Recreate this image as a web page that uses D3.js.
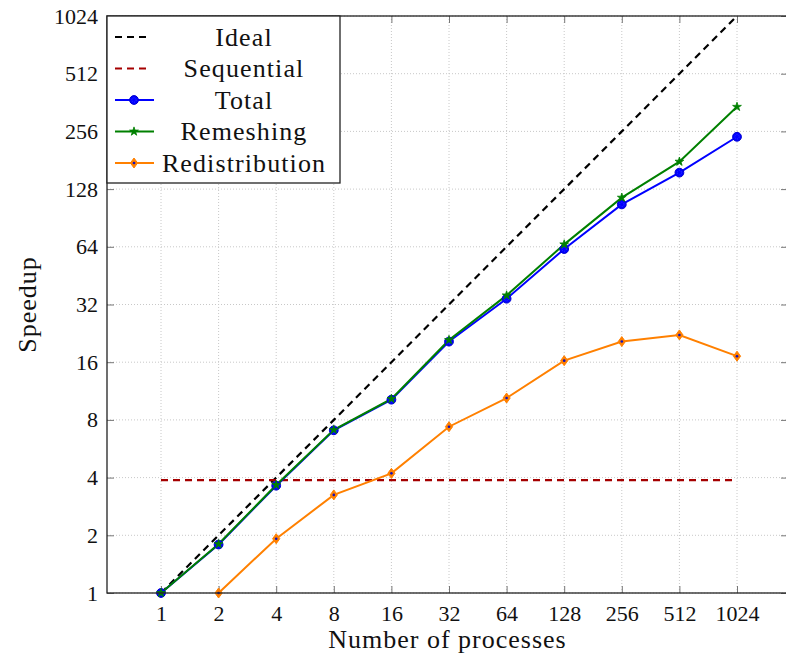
<!DOCTYPE html>
<html>
<head>
<meta charset="utf-8">
<script src="https://cdn.jsdelivr.net/npm/d3@7"></script>
<style>
  html, body { margin: 0; padding: 0; background: #fff; }
  svg { display: block; }
  text { font-family: "Liberation Serif", "Times New Roman", serif; fill: #111; }
</style>
</head>
<body>
<svg id="chart" width="786" height="659"></svg>
<script>
// ---- data ----
const processes = [1, 2, 4, 8, 16, 32, 64, 128, 256, 512, 1024];
const yTickValues = [1, 2, 4, 8, 16, 32, 64, 128, 256, 512, 1024];
const idealSpeedup = [1, 2, 4, 8, 16, 32, 64, 128, 256, 512, 1024];
const sequentialSpeedup = [3.88, 3.88, 3.88, 3.88, 3.88, 3.88, 3.88, 3.88, 3.88, 3.88, 3.88];
const totalSpeedup = [1, 1.79, 3.63, 7.06, 10.2, 20.5, 34.3, 62.3, 106.5, 156, 240];
const remeshingSpeedup = [1, 1.8, 3.66, 7.1, 10.3, 20.9, 35.7, 65.9, 115.5, 178, 344];
const redistributionSpeedup = [null, 1, 1.92, 3.25, 4.21, 7.37, 10.4, 16.3, 20.5, 22.2, 17.2];
const seriesNames = ["Ideal", "Sequential", "Total", "Remeshing", "Redistribution"];
const xLabel = "Number of processes";
const yLabel = "Speedup";

// ---- layout ----
const frame = { left: 107, right: 788, top: 16, bottom: 593 };
const firstX = 161, lastX = 737;

const svg = d3.select("#chart");
const x = d3.scaleLog().base(2).domain([1, 1024]).range([firstX, lastX]);
const y = d3.scaleLog().base(2).domain([1, 1024]).range([frame.bottom, frame.top]);

// grid
const grid = svg.append("g").attr("stroke", "#c8c8c8").attr("stroke-width", 1).attr("stroke-dasharray", "1,2");
grid.selectAll("line.gx").data(processes).join("line")
  .attr("x1", d => x(d)).attr("x2", d => x(d))
  .attr("y1", frame.top).attr("y2", frame.bottom);
grid.selectAll("line.gy").data(yTickValues).join("line")
  .attr("x1", frame.left).attr("x2", frame.right)
  .attr("y1", d => y(d)).attr("y2", d => y(d));

// axes (ticks inward on all sides)
const tickLen = 7;
const axB = svg.append("g").attr("transform", `translate(0,${frame.bottom})`)
  .call(d3.axisBottom(x).tickValues(processes).tickFormat(d3.format("d")).tickSizeInner(-tickLen).tickSizeOuter(0).tickPadding(12));
const axT = svg.append("g").attr("transform", `translate(0,${frame.top})`)
  .call(d3.axisTop(x).tickValues(processes).tickFormat("").tickSizeInner(-tickLen).tickSizeOuter(0));
const axL = svg.append("g").attr("transform", `translate(${frame.left},0)`)
  .call(d3.axisLeft(y).tickValues(yTickValues).tickFormat(d3.format("d")).tickSizeInner(-tickLen).tickSizeOuter(0).tickPadding(16));
const axR = svg.append("g").attr("transform", `translate(${frame.right},0)`)
  .call(d3.axisRight(y).tickValues(yTickValues).tickFormat("").tickSizeInner(-tickLen).tickSizeOuter(0));
[axB, axT, axL, axR].forEach(a => {
  a.select(".domain").remove();
  a.selectAll(".tick line").attr("stroke", "#777").attr("stroke-width", 1);
  a.selectAll(".tick text").attr("font-size", 22).attr("fill", "#111");
});
axL.selectAll(".tick text").attr("x", -9);

// line data helper
function pts(vals) { return processes.map((p, i) => ({ p, v: vals[i] })).filter(d => d.v != null); }
const line = d3.line().x(d => x(d.p)).y(d => y(d.v));

const plot = svg.append("g");
// Ideal
plot.append("path").datum(pts(idealSpeedup)).attr("d", line)
  .attr("fill", "none").attr("stroke", "#000").attr("stroke-width", 2.2).attr("stroke-dasharray", "7,5");
// Sequential
plot.append("path").datum(pts(sequentialSpeedup)).attr("d", line)
  .attr("fill", "none").attr("stroke", "#a50000").attr("stroke-width", 2.2).attr("stroke-dasharray", "7,5");

const orange = "#ff8000", blue = "#0000ff", green = "#008000";
plot.append("path").datum(pts(redistributionSpeedup)).attr("d", line)
  .attr("fill", "none").attr("stroke", orange).attr("stroke-width", 2);
plot.append("path").datum(pts(totalSpeedup)).attr("d", line)
  .attr("fill", "none").attr("stroke", blue).attr("stroke-width", 2);
plot.append("path").datum(pts(remeshingSpeedup)).attr("d", line)
  .attr("fill", "none").attr("stroke", green).attr("stroke-width", 2);

// markers
function diamond(g, cx, cy) {
  g.append("path").attr("d", `M${cx},${cy - 5}L${cx + 3.6},${cy}L${cx},${cy + 5}L${cx - 3.6},${cy}Z`)
    .attr("fill", orange).attr("stroke", orange).attr("stroke-width", 1);
  g.append("circle").attr("cx", cx).attr("cy", cy).attr("r", 1.3).attr("fill", "#1010c0");
}
function circleMark(g, cx, cy) {
  g.append("circle").attr("cx", cx).attr("cy", cy).attr("r", 4.4).attr("fill", blue).attr("stroke", "#0000d0").attr("stroke-width", 1);
  g.append("circle").attr("cx", cx).attr("cy", cy).attr("r", 2.2).attr("fill", "none").attr("stroke", "#3b3bff").attr("stroke-width", 0.8).attr("stroke-dasharray", "1,1.2");
}
const starPath = d3.symbol().type(d3.symbolStar).size(24)();
function starMark(g, cx, cy) {
  g.append("path").attr("d", starPath).attr("transform", `translate(${cx},${cy})`).attr("fill", green).attr("stroke", green).attr("stroke-width", 0.8);
}
const marks = svg.append("g");
pts(redistributionSpeedup).forEach(d => diamond(marks, x(d.p), y(d.v)));
pts(totalSpeedup).forEach(d => circleMark(marks, x(d.p), y(d.v)));
pts(remeshingSpeedup).forEach(d => starMark(marks, x(d.p), y(d.v)));

// frame
svg.append("rect").attr("x", frame.left).attr("y", frame.top)
  .attr("width", frame.right - frame.left).attr("height", frame.bottom - frame.top)
  .attr("fill", "none").attr("stroke", "#222").attr("stroke-width", 1.3);

// axis labels
svg.append("text").attr("x", (frame.left + frame.right) / 2).attr("y", 648)
  .attr("text-anchor", "middle").attr("font-size", 26).attr("letter-spacing", 1).text(xLabel);
svg.append("text").attr("transform", `translate(36,${(frame.top + frame.bottom) / 2}) rotate(-90)`)
  .attr("text-anchor", "middle").attr("font-size", 26).attr("letter-spacing", 1).text(yLabel);

// legend
const lg = svg.append("g");
lg.append("rect").attr("x", frame.left).attr("y", frame.top).attr("width", 233).attr("height", 167)
  .attr("fill", "#fff").attr("stroke", "#222").attr("stroke-width", 1.3);
const legendStyles = [
  { color: "#000", dash: "7,5", mark: null },
  { color: "#a50000", dash: "7,5", mark: null },
  { color: blue, dash: null, mark: circleMark },
  { color: green, dash: null, mark: starMark },
  { color: orange, dash: null, mark: diamond }
];
seriesNames.forEach((name, i) => {
  const cy = 37 + i * 31.5;
  const st = legendStyles[i];
  lg.append("line").attr("x1", 115).attr("x2", st.dash ? 150 : 154).attr("y1", cy).attr("y2", cy)
    .attr("stroke", st.color).attr("stroke-width", st.dash ? 2.2 : 2).attr("stroke-dasharray", st.dash);
  if (st.mark) st.mark(lg, 134, cy);
  lg.append("text").attr("x", 244).attr("y", cy + 8.5).attr("text-anchor", "middle")
    .attr("font-size", 26).attr("letter-spacing", 1.1).text(name);
});
</script>
</body>
</html>
